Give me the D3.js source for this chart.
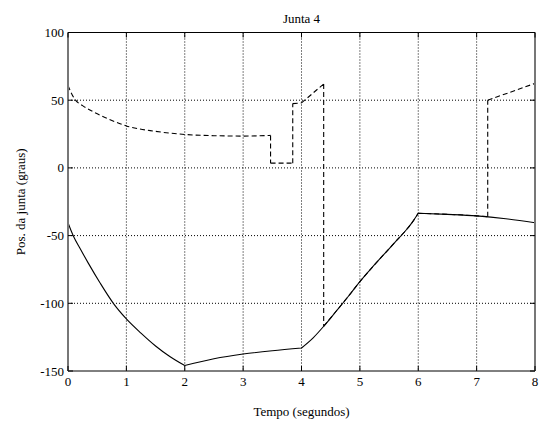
<!DOCTYPE html>
<html>
<head>
<meta charset="utf-8">
<script src="https://cdn.jsdelivr.net/npm/d3@7"></script>
<style>
body { margin: 0; background: #fff; }
svg text { font-family: "Liberation Serif", "Times New Roman", serif; fill: #000; }
</style>
</head>
<body>
<svg id="chart" width="540" height="422"></svg>
<script>
let margin = {top: 32.5, bottom: 51, left: 68, right: 5};
let svgWidth = 540;
let svgHeight = 422;
let width = svgWidth - margin.left - margin.right;
let height = svgHeight - margin.top - margin.bottom;

let xTicks = [0, 1, 2, 3, 4, 5, 6, 7, 8];
let yTicks = [-150, -100, -50, 0, 50, 100];

// curva continua
let solidT = [0, 0.05, 0.1, 0.2, 0.35, 0.55, 0.777, 1.0, 1.25, 1.5, 1.75, 2.0,
              2.5, 3.0, 3.5, 4.0,
              4.2, 4.4, 4.6, 4.8, 5.0, 5.2, 5.4, 5.6, 5.8, 5.9, 6.0,
              6.5, 7.0, 7.5, 8.0];
let solidV = [-40.5, -46, -51, -59, -70.5, -85, -100, -111.5, -122, -131.5, -139.5, -146,
              -141, -137.5, -135, -133,
              -125.5, -116, -105.5, -95, -84, -74, -64.5, -55, -45.5, -40, -33.5,
              -34.3, -35.4, -37.5, -40.5];
let solidBreaks = [2, 4, 6];

// curva tracejada
let dashedT = [0, 0.06, 0.12, 0.25, 0.43, 0.7, 1.0, 1.5, 2.0, 2.5, 3.0, 3.47,
               3.47, 3.85, 3.85, 4.0, 4.38, 4.38,
               4.6, 4.8, 5.0, 5.2, 5.4, 5.6, 5.8, 5.9, 6.0,
               6.5, 7.0, 7.19, 7.19, 8.0];
let dashedV = [61, 55, 50.5, 46, 41.5, 36, 31, 27, 24.7, 23.8, 23.5, 24,
               3.5, 3.5, 47.5, 48, 62, -117,
               -105.5, -95, -84, -74, -64.5, -55, -45.5, -40, -33.5,
               -34.3, -35.4, -36, 50, 62.4];
let dashedBreaks = [4, 6];

let xScale = d3.scaleLinear().domain([0, 8]).range([0, width]);
let yScale = d3.scaleLinear().domain([-150, 100]).range([height, 0]);

let svg = d3.select('#chart').append('g')
    .attr('transform', `translate(${margin.left},${margin.top})`);

// grade
svg.append('g').selectAll('line')
    .data(xTicks.slice(1, -1))
    .enter().append('line')
    .attr('x1', d => xScale(d)).attr('x2', d => xScale(d))
    .attr('y1', 0).attr('y2', height)
    .attr('stroke', '#000').attr('stroke-width', 1)
    .attr('stroke-dasharray', '1,2');
svg.append('g').selectAll('line')
    .data(yTicks.slice(1, -1))
    .enter().append('line')
    .attr('y1', d => yScale(d)).attr('y2', d => yScale(d))
    .attr('x1', 0).attr('x2', width)
    .attr('stroke', '#000').attr('stroke-width', 1)
    .attr('stroke-dasharray', '1,2');

// divide em pedaços nos cantos e saltos
function pieces(ts, vs, breaks) {
    let segs = [];
    let cur = [[ts[0], vs[0]]];
    for (let i = 1; i < ts.length; i++) {
        cur.push([ts[i], vs[i]]);
        if (breaks.includes(ts[i]) || ts[i] === ts[i + 1] || ts[i] === ts[i - 1]) {
            segs.push(cur);
            cur = [[ts[i], vs[i]]];
        }
    }
    if (cur.length > 1) segs.push(cur);
    return segs;
}

let line = d3.line()
    .x(d => xScale(d[0]))
    .y(d => yScale(d[1]))
    .curve(d3.curveMonotoneX);

svg.append('path')
    .attr('d', pieces(solidT, solidV, solidBreaks).map(s => line(s)).join(''))
    .attr('fill', 'none').attr('stroke', '#000').attr('stroke-width', 1.1);

svg.append('path')
    .attr('d', pieces(dashedT, dashedV, dashedBreaks).map(s => line(s)).join(''))
    .attr('fill', 'none').attr('stroke', '#000').attr('stroke-width', 1.1)
    .attr('stroke-dasharray', '5,3');

// caixa
svg.append('line').attr('x1', 0).attr('x2', width).attr('y1', 0).attr('y2', 0)
    .attr('stroke', '#000');
svg.append('line').attr('x1', 0).attr('x2', width).attr('y1', height).attr('y2', height)
    .attr('stroke', '#000');
svg.append('line').attr('x1', 0).attr('x2', 0).attr('y1', 0).attr('y2', height)
    .attr('stroke', '#777').attr('stroke-width', 2);
svg.append('line').attr('x1', width).attr('x2', width).attr('y1', 0).attr('y2', height)
    .attr('stroke', '#777').attr('stroke-width', 2);

// marcas para dentro
let tk = 5;
let ticks = svg.append('g').attr('stroke', '#000');
xTicks.forEach(d => {
    ticks.append('line').attr('x1', xScale(d)).attr('x2', xScale(d)).attr('y1', height).attr('y2', height - tk);
    ticks.append('line').attr('x1', xScale(d)).attr('x2', xScale(d)).attr('y1', 0).attr('y2', tk);
});
yTicks.forEach(d => {
    ticks.append('line').attr('y1', yScale(d)).attr('y2', yScale(d)).attr('x1', 0).attr('x2', tk);
    ticks.append('line').attr('y1', yScale(d)).attr('y2', yScale(d)).attr('x1', width).attr('x2', width - tk);
});

// rótulos
svg.append('g').selectAll('text')
    .data(xTicks).enter().append('text')
    .attr('x', d => xScale(d))
    .attr('y', height + 15)
    .attr('text-anchor', 'middle')
    .attr('font-size', '13px')
    .text(d => d);
svg.append('g').selectAll('text')
    .data(yTicks).enter().append('text')
    .attr('x', -4)
    .attr('y', d => yScale(d) + 4.5)
    .attr('text-anchor', 'end')
    .attr('font-size', '13px')
    .text(d => d);

svg.append('text')
    .attr('x', width / 2).attr('y', -9.5)
    .attr('text-anchor', 'middle')
    .attr('font-size', '13px')
    .text('Junta 4');
svg.append('text')
    .attr('x', width / 2).attr('y', height + 45)
    .attr('text-anchor', 'middle')
    .attr('font-size', '13px')
    .text('Tempo (segundos)');
svg.append('text')
    .attr('transform', `translate(${-43},${height / 2}) rotate(-90)`)
    .attr('text-anchor', 'middle')
    .attr('font-size', '13px')
    .text('Pos. da junta (graus)');
</script>
</body>
</html>
